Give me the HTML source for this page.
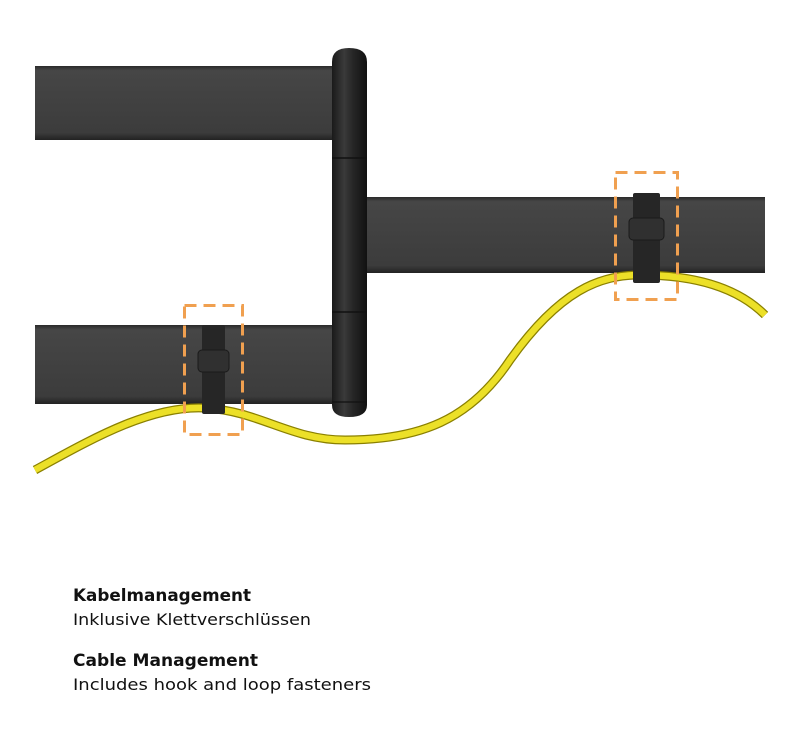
<!DOCTYPE html>
<html><head><meta charset="utf-8"><style>body{margin:0;background:#fff}svg{display:block}</style></head>
<body>
<svg width="800" height="730" viewBox="0 0 800 730" xmlns="http://www.w3.org/2000/svg">
<defs>
<linearGradient id="arm" x1="0" y1="0" x2="0" y2="1">
<stop offset="0" stop-color="#2a2a2a"/><stop offset="0.06" stop-color="#464646"/><stop offset="0.9" stop-color="#3c3c3c"/><stop offset="1" stop-color="#222"/></linearGradient>
<linearGradient id="col" x1="0" y1="0" x2="1" y2="0">
<stop offset="0" stop-color="#1a1a1a"/><stop offset="0.35" stop-color="#3a3a3a"/><stop offset="0.6" stop-color="#262626"/><stop offset="1" stop-color="#111"/></linearGradient>
</defs>
<rect x="35" y="66" width="305" height="74" fill="url(#arm)"/>
<rect x="362" y="197" width="403" height="76" fill="url(#arm)"/>
<rect x="35" y="325" width="305" height="79" fill="url(#arm)"/>
<path d="M332 62 Q332 48 349 48 Q367 48 367 62 L367 405 Q367 417 349 417 Q332 417 332 405 Z" fill="url(#col)"/>
<line x1="332" y1="158" x2="367" y2="158" stroke="#111" stroke-width="1.5"/>
<line x1="332" y1="312" x2="367" y2="312" stroke="#111" stroke-width="1.5"/>
<line x1="332" y1="402" x2="367" y2="402" stroke="#111" stroke-width="1.2"/>
<path d="M35 470 C90 440 150 405 205 408 C260 411 290 440 345 440 C420 440 470 420 510 360 C560 290 600 275 640 275 C700 275 740 290 765 315" fill="none" stroke="#8a8000" stroke-width="9"/>
<path d="M35 470 C90 440 150 405 205 408 C260 411 290 440 345 440 C420 440 470 420 510 360 C560 290 600 275 640 275 C700 275 740 290 765 315" fill="none" stroke="#ece028" stroke-width="6.5"/>
<rect x="202" y="325" width="23" height="89" rx="2" fill="#262626"/>
<rect x="198" y="350" width="31" height="22" rx="4" fill="#303030" stroke="#1a1a1a"/>
<rect x="633" y="193" width="27" height="90" rx="2" fill="#262626"/>
<rect x="629" y="218" width="35" height="22" rx="4" fill="#303030" stroke="#1a1a1a"/>
<rect x="184.5" y="305.5" width="58" height="129" fill="none" stroke="#f0a050" stroke-width="3" stroke-dasharray="12 7"/>
<rect x="615.5" y="172.5" width="62" height="127" fill="none" stroke="#f0a050" stroke-width="3" stroke-dasharray="12 7"/>
<g font-family="DejaVu Sans, sans-serif" fill="#111">
<text x="73" y="601" font-size="17" font-weight="bold" textLength="178" lengthAdjust="spacingAndGlyphs">Kabelmanagement</text>
<text x="73" y="625" font-size="16" textLength="238" lengthAdjust="spacingAndGlyphs">Inklusive Klettverschlüssen</text>
<text x="73" y="666" font-size="17" font-weight="bold" textLength="185" lengthAdjust="spacingAndGlyphs">Cable Management</text>
<text x="73" y="690" font-size="16" textLength="298" lengthAdjust="spacingAndGlyphs">Includes hook and loop fasteners</text>
</g>
</svg>
</body></html>
